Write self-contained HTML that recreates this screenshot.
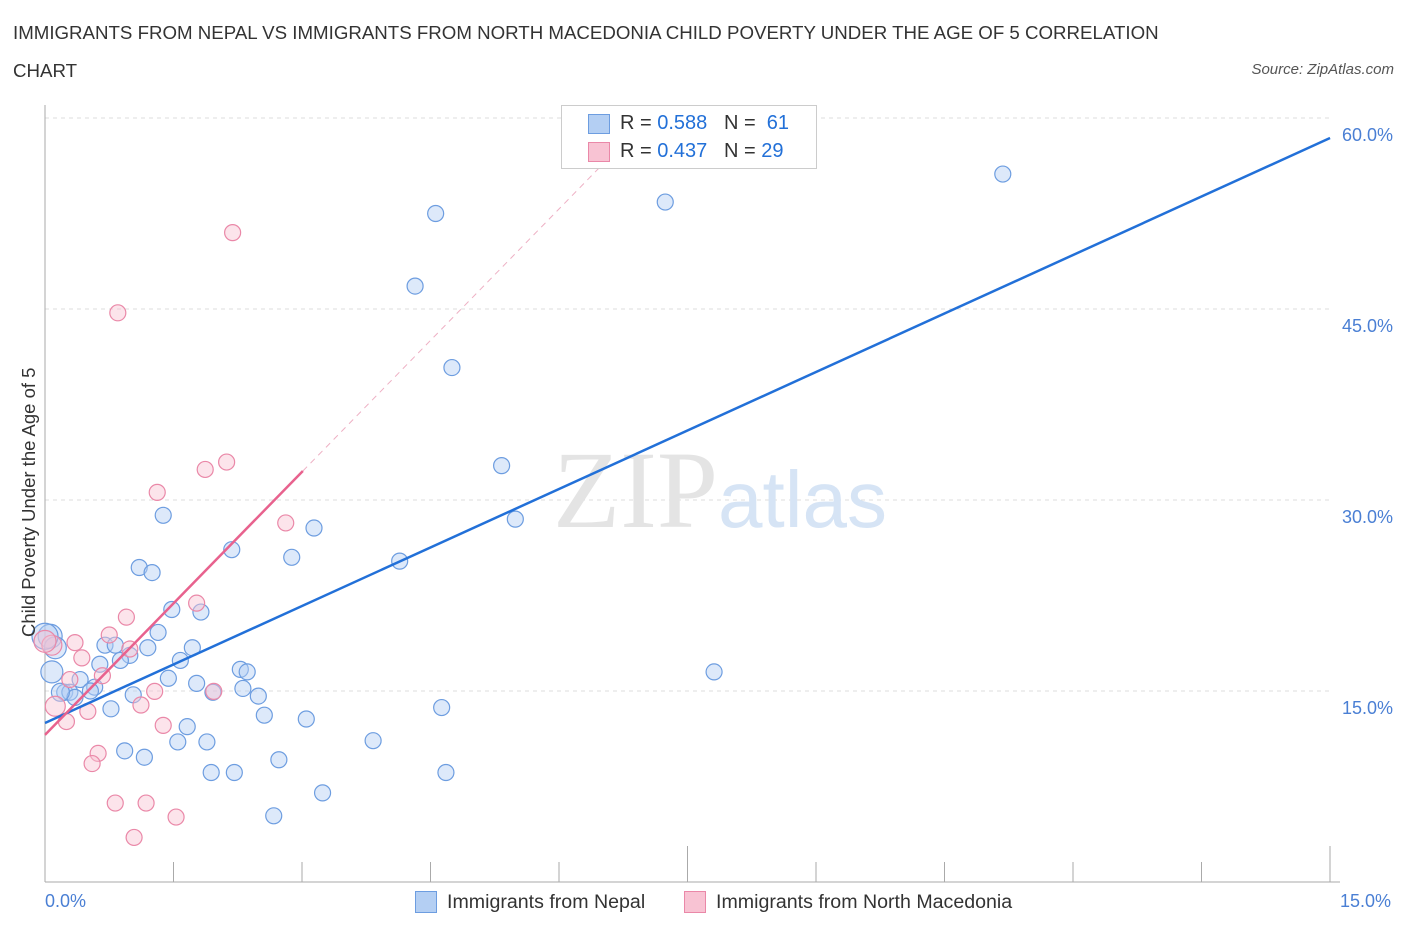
<!DOCTYPE html>
<html><head><meta charset="utf-8"><style>
body{margin:0;background:#fff;font-family:"Liberation Sans",sans-serif;}
.t{position:absolute;color:#333;font-size:18.7px;}
</style></head><body>
<div style="position:relative;width:1406px;height:930px;overflow:hidden">
<div class="t" style="left:13px;top:22px;">IMMIGRANTS FROM NEPAL VS IMMIGRANTS FROM NORTH MACEDONIA CHILD POVERTY UNDER THE AGE OF 5 CORRELATION</div>
<div class="t" style="left:13px;top:60px;">CHART</div>
<div class="t" style="right:12px;top:61px;font-size:15px;font-style:italic;color:#555">Source: ZipAtlas.com</div>
<svg id="svg" width="1406" height="930" style="position:absolute;left:0;top:0"></svg>
</div>
<script>
const blueX=[11.18,4.56,7.24,4.32,4.75,5.33,5.49,1.38,3.14,2.18,2.88,4.14,1.1,1.25,1.48,1.82,1.32,1.2,1.72,0.7,0.82,0.99,0.88,0.64,1.58,0.06,0.12,0.08,2.28,2.36,1.44,1.77,2.31,2.49,1.96,0.41,0.58,0.53,0.23,0.29,0.35,1.03,0.77,2.56,3.05,4.63,7.81,1.66,1.55,1.89,3.83,0.93,1.16,2.73,1.94,2.21,4.68,3.24,2.67,0.18,0.0];
const blueY=[55.6,52.5,53.4,46.8,40.4,32.7,28.5,28.8,27.8,26.1,25.5,25.2,24.7,24.3,21.4,21.2,19.6,18.4,18.4,18.6,18.6,17.8,17.4,17.1,17.4,19.3,18.4,16.5,16.7,16.5,16.0,15.6,15.2,14.6,14.9,15.9,15.3,15.0,14.9,14.9,14.5,14.7,13.6,13.1,12.8,13.7,16.5,12.2,11.0,11.0,11.1,10.3,9.8,9.6,8.6,8.6,8.6,7.0,5.2,14.9,19.3];
const blueR=[8,8,8,8,8,8,8,8,8,8,8,8,8,8,8,8,8,8,8,8,8,8,8,8,8,12,11,11,8,8,8,8,8,8,8,8,8,8,8,8,8,8,8,8,8,8,8,8,8,8,8,8,8,8,8,8,8,8,8,9,13];
const pinkX=[2.19,0.85,2.12,1.87,1.31,2.81,1.77,0.95,0.75,0.35,0.08,0.43,0.99,0.67,0.29,1.97,1.28,0.5,1.12,0.12,0.25,1.38,0.62,0.55,0.82,1.18,1.53,1.04,0.0];
const pinkY=[51.0,44.7,32.98,32.4,30.6,28.2,21.9,20.8,19.4,18.8,18.6,17.6,18.3,16.2,15.9,14.97,14.97,13.4,13.9,13.8,12.6,12.3,10.1,9.3,6.2,6.2,5.1,3.5,18.9];
const pinkR=[8,8,8,8,8,8,8,8,8,8,10,8,8,8,8,8,8,8,8,10,8,8,8,8,8,8,8,8,11];
const yTicks=[15,30,45,60];
const blueLine=[[0,12.49],[15,58.43]];
const pinkSolid=[[0,11.55],[3.01,32.28]];
const pinkDash=[[3.01,32.28],[6.5,56.3]];
const X=v=>45+v*85.67, Y=v=>882-v*12.733;
const svg=document.getElementById('svg');const NS='http://www.w3.org/2000/svg';
function mk(t,a,p){const e=document.createElementNS(NS,t);for(const k in a)e.setAttribute(k,a[k]);(p||svg).appendChild(e);return e;}
for(const t of yTicks){const g=mk('line',{x1:45,x2:1330,y1:Y(t),y2:Y(t),stroke:'#ddd','stroke-dasharray':'4,4'});


const tx=mk('text',{x:1393,y:Y(t)+23,'text-anchor':'end',fill:'#4a7fd4','font-size':18,'font-family':'Liberation Sans'});tx.textContent=t.toFixed(1)+'%';

}
mk('line',{x1:45,x2:45,y1:105,y2:882,stroke:'#aaa'});
mk('line',{x1:45,x2:1340,y1:882,y2:882,stroke:'#aaa'});
for(let i=1;i<=10;i++){const xx=45+i*128.5;const l=mk('line',{x1:xx,x2:xx,y1:i%5==0?846:862,y2:882,stroke:'#aaa'});

}
const wm=mk('text',{x:553,y:527,fill:'#e4e4e4','font-size':110,'font-family':'Liberation Serif'});wm.textContent='ZIP';
const wm2=mk('text',{x:718,y:527,fill:'#d6e4f5','font-size':80,'font-family':'Liberation Sans'});wm2.textContent='atlas';
function pts(xs,ys,rs,fill,stroke,name){for(let i=0;i<xs.length;i++){const c=mk('circle',{cx:X(xs[i]),cy:Y(ys[i]),r:rs[i],fill:fill,stroke:stroke,'stroke-width':1.2,'fill-opacity':0.45});

}}
pts(blueX,blueY,blueR,'#b4cff3','#6d9de0','nepal-point');
pts(pinkX,pinkY,pinkR,'#f8c3d3','#ea88a8','macedonia-point');
const bl=mk('line',{x1:X(blueLine[0][0]),y1:Y(blueLine[0][1]),x2:X(blueLine[1][0]),y2:Y(blueLine[1][1]),stroke:'#2270d8','stroke-width':2.5});


const pl=mk('line',{x1:X(pinkSolid[0][0]),y1:Y(pinkSolid[0][1]),x2:X(pinkSolid[1][0]),y2:Y(pinkSolid[1][1]),stroke:'#e8628e','stroke-width':2.5});


const pd=mk('line',{x1:X(pinkDash[0][0]),y1:Y(pinkDash[0][1]),x2:X(pinkDash[1][0]),y2:Y(pinkDash[1][1]),stroke:'#eeb0c4','stroke-width':1,'stroke-dasharray':'6,5'});


</script>
<div style="position:absolute;left:45px;top:891px;color:#4a7fd4;font-size:18px">0.0%</div>
<div style="position:absolute;left:1340px;top:891px;color:#4a7fd4;font-size:18px">15.0%</div>
<div style="position:absolute;left:18px;top:495px;transform:translate(0,-50%) rotate(-90deg);transform-origin:center;width:0;white-space:nowrap;font-size:18.5px;color:#333"><span style="position:absolute;left:-142px;top:0">Child Poverty Under the Age of 5</span></div>
<div style="position:absolute;left:561px;top:105px;width:254px;height:62px;border:1px solid #ccc;background:#fff;font-size:20px;color:#333">
<div style="position:absolute;left:26px;top:8px;width:20px;height:18px;background:#b4cff3;border:1px solid #6d9de0"></div>
<div style="position:absolute;left:58px;top:6px">R = <span style="color:#2270d8">0.588</span>&nbsp;&nbsp;&nbsp;N = &nbsp;<span style="color:#2270d8">61</span></div>
<div style="position:absolute;left:26px;top:36px;width:20px;height:18px;background:#f8c3d3;border:1px solid #ea88a8"></div>
<div style="position:absolute;left:58px;top:34px">R = <span style="color:#2270d8">0.437</span>&nbsp;&nbsp;&nbsp;N = <span style="color:#2270d8">29</span></div>
</div>
<div style="position:absolute;left:415px;top:891px;width:20px;height:20px;background:#b4cff3;border:1px solid #6d9de0"></div>
<div style="position:absolute;left:447px;top:891px;font-size:19.6px;color:#333">Immigrants from Nepal</div>
<div style="position:absolute;left:684px;top:891px;width:20px;height:20px;background:#f8c3d3;border:1px solid #ea88a8"></div>
<div style="position:absolute;left:716px;top:891px;font-size:19.6px;color:#333">Immigrants from North Macedonia</div>
</body></html>
